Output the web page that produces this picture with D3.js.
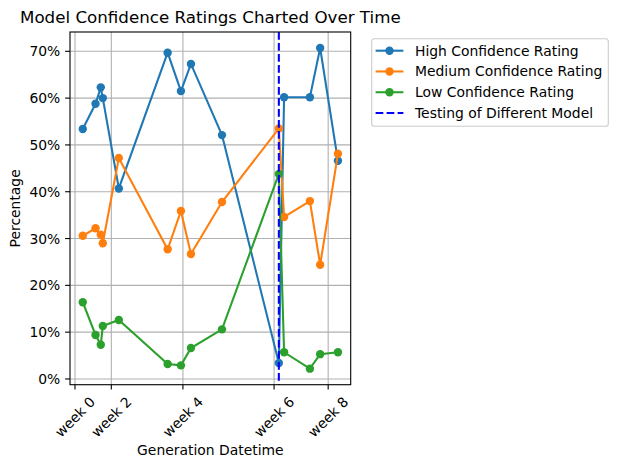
<!DOCTYPE html>
<html lang="en">
<head>
  <meta charset="UTF-8">
  <title>Model Confidence Ratings</title>
  <style>
    body { margin: 0; background: #fff; }
    text { font-family: "DejaVu Sans", sans-serif; fill: #000; }
  </style>
</head>
<body>
  <svg id="svg" width="617" height="469"></svg>

  <script src="https://d3js.org/d3.v7.min.js"></script>
  <script>
    // days since the "week 0" tick
    const days = [3.1, 8.2, 10.3, 11.1, 17.5, 37.0, 42.3, 46.3, 58.7, 81.4, 83.5, 93.8, 97.9, 105.0]
    const high = [53.4, 58.8, 62.3, 60.0, 40.7, 69.7, 61.5, 67.3, 52.1, 3.4, 60.2, 60.2, 70.7, 46.6]
    const medium = [30.6, 32.2, 30.8, 29.0, 47.2, 27.7, 35.9, 26.7, 37.8, 53.5, 34.6, 38.0, 24.4, 48.1]
    const low = [16.4, 9.4, 7.3, 11.3, 12.6, 3.2, 2.9, 6.6, 10.6, 43.8, 5.7, 2.2, 5.3, 5.7]

    const tickDays = [0, 14.5, 43.1, 79.5, 101.1]
    const tickLabels = ['week 0', 'week 2', 'week 4', 'week 6', 'week 8']
    const yTicks = [0, 10, 20, 30, 40, 50, 60, 70]
    const modelChangeDay = 81.4

    const seriesNames = ['High Confidence Rating', 'Medium Confidence Rating', 'Low Confidence Rating']
    const seriesValues = [high, medium, low]
    const colors = ['#1f77b4', '#ff7f0e', '#2ca02c']

    const plotL = 70, plotR = 350.7, plotT = 32, plotB = 384.7
    const svg = d3.select('#svg')

    // matplotlib-like 5% margins
    const xExt = d3.extent(days)
    const xPad = (xExt[1] - xExt[0]) * 0.05
    const xScale = d3.scaleLinear()
      .domain([xExt[0] - xPad, xExt[1] + xPad])
      .range([plotL, plotR])

    const allY = high.concat(medium, low)
    const yExt = d3.extent(allY)
    const yPad = (yExt[1] - yExt[0]) * 0.05
    const yScale = d3.scaleLinear()
      .domain([yExt[0] - yPad, yExt[1] + yPad])
      .range([plotB, plotT])

    // grid
    svg.append('g').selectAll('line')
      .data(tickDays).enter().append('line')
      .attr('x1', d => xScale(d)).attr('x2', d => xScale(d))
      .attr('y1', plotT).attr('y2', plotB)
      .attr('stroke', '#b0b0b0').attr('stroke-width', 1.1)
    svg.append('g').selectAll('line')
      .data(yTicks).enter().append('line')
      .attr('x1', plotL).attr('x2', plotR)
      .attr('y1', d => yScale(d)).attr('y2', d => yScale(d))
      .attr('stroke', '#b0b0b0').attr('stroke-width', 1.1)

    // series
    const line = d3.line()
      .x((d, i) => xScale(days[i]))
      .y(d => yScale(d))

    seriesValues.forEach((vals, k) => {
      svg.append('path')
        .datum(vals)
        .attr('d', line)
        .attr('fill', 'none')
        .attr('stroke', colors[k])
        .attr('stroke-width', 2.08)
      svg.append('g').selectAll('circle')
        .data(vals).enter().append('circle')
        .attr('cx', (d, i) => xScale(days[i]))
        .attr('cy', d => yScale(d))
        .attr('r', 4.2)
        .attr('fill', colors[k])
    })

    // model change line
    svg.append('line')
      .attr('x1', xScale(modelChangeDay)).attr('x2', xScale(modelChangeDay))
      .attr('y1', plotT).attr('y2', plotB)
      .attr('stroke', '#0000ff').attr('stroke-width', 2.08)
      .attr('stroke-dasharray', '7.7,3.3')

    // frame
    svg.append('rect')
      .attr('x', plotL).attr('y', plotT)
      .attr('width', plotR - plotL).attr('height', plotB - plotT)
      .attr('fill', 'none').attr('stroke', '#000').attr('stroke-width', 1.1)

    // y axis ticks
    const yt = svg.append('g').selectAll('g')
      .data(yTicks).enter().append('g')
    yt.append('line')
      .attr('x1', plotL - 4.9).attr('x2', plotL)
      .attr('y1', d => yScale(d)).attr('y2', d => yScale(d))
      .attr('stroke', '#000').attr('stroke-width', 1.1)
    yt.append('text')
      .attr('x', plotL - 9.7)
      .attr('y', d => yScale(d))
      .attr('dy', '0.36em')
      .attr('text-anchor', 'end')
      .style('font-size', '13.9px')
      .text(d => d + '%')

    // x axis ticks with 45 degree labels
    const xt = svg.append('g').selectAll('g')
      .data(tickDays).enter().append('g')
    xt.append('line')
      .attr('x1', d => xScale(d)).attr('x2', d => xScale(d))
      .attr('y1', plotB).attr('y2', plotB + 4.9)
      .attr('stroke', '#000').attr('stroke-width', 1.1)
    xt.append('text')
      .attr('text-anchor', 'middle')
      .attr('dominant-baseline', 'central')
      .style('font-size', '13.9px')
      .text((d, i) => tickLabels[i])
      .attr('transform', function (d) {
        const w = this.getComputedTextLength()
        const half = (w + 13.9) * 0.7071 / 2
        return `translate(${xScale(d)},${plotB + 9.7 + half}) rotate(-45)`
      })

    // titles
    svg.append('text')
      .attr('x', (plotL + plotR) / 2).attr('y', 22.5)
      .attr('text-anchor', 'middle')
      .style('font-size', '16.7px')
      .text('Model Confidence Ratings Charted Over Time')
    svg.append('text')
      .attr('x', (plotL + plotR) / 2).attr('y', 455)
      .attr('text-anchor', 'middle')
      .style('font-size', '13.9px')
      .text('Generation Datetime')
    svg.append('text')
      .attr('transform', `translate(19.5,${(plotT + plotB) / 2}) rotate(-90)`)
      .attr('text-anchor', 'middle')
      .style('font-size', '13.9px')
      .text('Percentage')

    // legend
    const lg = svg.append('g')
    lg.append('rect')
      .attr('x', 371.7).attr('y', 38.7)
      .attr('width', 236.6).attr('height', 87.6)
      .attr('rx', 2.8)
      .attr('fill', '#fff').attr('fill-opacity', 0.8)
      .attr('stroke', '#cccccc').attr('stroke-width', 1.1)

    const legendItems = seriesNames.map((n, k) => ({ name: n, color: colors[k], dashed: false }))
    legendItems.push({ name: 'Testing of Different Model', color: '#0000ff', dashed: true })

    const row = lg.selectAll('g')
      .data(legendItems).enter().append('g')
      .attr('transform', (d, i) => `translate(0,${50.7 + i * 20.77})`)
    row.append('line')
      .attr('x1', 375.6).attr('x2', 403.4)
      .attr('y1', 0).attr('y2', 0)
      .attr('stroke', d => d.color).attr('stroke-width', 2.08)
      .attr('stroke-dasharray', d => d.dashed ? '7.7,3.3' : null)
    row.filter(d => !d.dashed).append('circle')
      .attr('cx', 389.5).attr('cy', 0).attr('r', 4.2)
      .attr('fill', d => d.color)
    row.append('text')
      .attr('x', 415).attr('y', 0).attr('dy', '0.36em')
      .style('font-size', '13.9px')
      .text(d => d.name)
  </script>
</body>
</html>
